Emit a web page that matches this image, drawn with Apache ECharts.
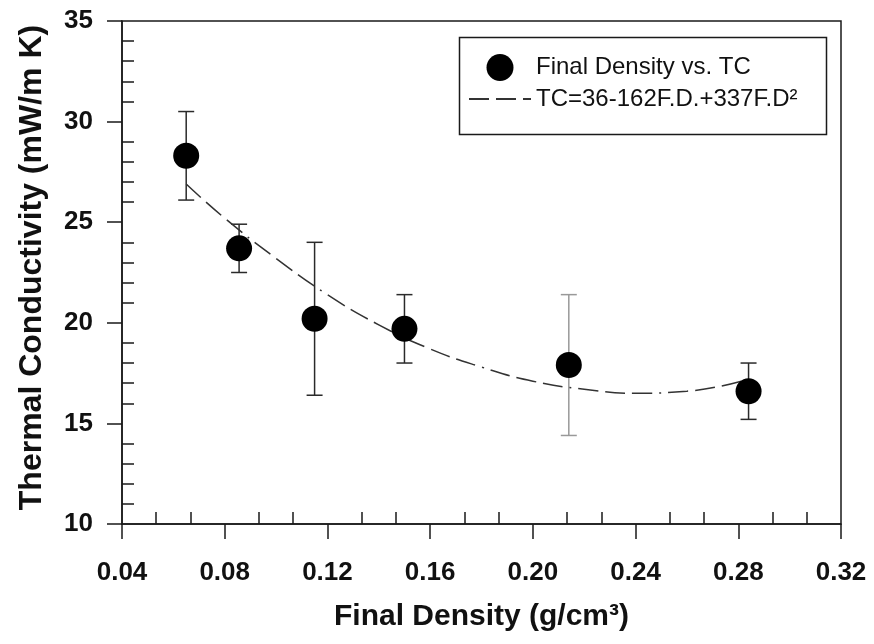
<!DOCTYPE html>
<html><head><meta charset="utf-8">
<script src="https://cdn.jsdelivr.net/npm/echarts@6/dist/echarts.min.js"></script>
<style>html,body{margin:0;padding:0;background:#fff}#c{width:874px;height:644px}</style>
</head><body><div id="c"></div>
<script>
// ---- data ----
const xTickLabels = ['0.04','0.08','0.12','0.16','0.20','0.24','0.28','0.32'];
const yTickLabels = ['10','15','20','25','30','35'];
const density = [0.065, 0.0856, 0.115, 0.150, 0.214, 0.284];
const tc      = [28.3, 23.7, 20.2, 19.7, 17.9, 16.6];
const tcLow   = [26.1, 22.5, 16.4, 18.0, 14.4, 15.2];
const tcHigh  = [30.5, 24.9, 24.0, 21.4, 21.4, 18.0];
const fitX = [0.065, 0.08, 0.10, 0.12, 0.14, 0.16, 0.18, 0.20, 0.22, 0.24, 0.26, 0.284];
const fitY = [26.9, 25.2, 23.2, 21.4, 19.9, 18.7, 17.8, 17.1, 16.7, 16.5, 16.6, 17.2];
const seriesNames = ['Final Density vs. TC', 'TC=36-162F.D.+337F.D\u00B2'];
const xTitle = 'Final Density (g/cm\u00B3)';
const yTitle = 'Thermal Conductivity (mW/m K)';

const FONT = '"Liberation Sans", Arial, Helvetica, sans-serif';
const AX = '#1a1a1a';
const chart = echarts.init(document.getElementById('c'), null, {renderer: 'canvas'});

const xFmt = v => { const i = Math.round((v - 0.04) / 0.04); return xTickLabels[i] || ''; };
const yFmt = v => { const i = Math.round((v - 10) / 5); return yTickLabels[i] || ''; };

const baseX = {type: 'value', min: 0.04, max: 0.32, interval: 0.04, splitLine: {show: false}, position: 'bottom'};
const baseY = {type: 'value', min: 10, max: 35, interval: 5, splitLine: {show: false}, position: 'left'};

chart.setOption({
  animation: false,
  backgroundColor: '#fff',
  grid: {left: 122, right: 33, top: 21, bottom: 120, show: true, borderColor: AX, borderWidth: 1.5, containLabel: false},
  xAxis: [
    Object.assign({}, baseX, {
      axisLine: {show: true, lineStyle: {color: AX, width: 1.5}},
      axisTick: {show: true, inside: false, length: 15, lineStyle: {color: AX, width: 1.5}},
      axisLabel: {formatter: xFmt, color: '#111', fontSize: 26, fontWeight: 'bold', fontFamily: FONT, margin: 36},
      name: xTitle, nameLocation: 'middle', nameGap: 78,
      nameTextStyle: {color: '#111', fontSize: 30, fontWeight: 'bold', fontFamily: FONT}
    }),
    Object.assign({}, baseX, {
      axisLine: {show: false},
      axisTick: {show: false, inside: true},
      minorTick: {show: true, splitNumber: 3, length: 12, lineStyle: {color: AX, width: 1.5}},
      axisLabel: {show: false}
    })
  ],
  yAxis: [
    Object.assign({}, baseY, {
      axisLine: {show: true, lineStyle: {color: AX, width: 1.5}},
      axisTick: {show: true, inside: false, length: 15, lineStyle: {color: AX, width: 1.5}},
      axisLabel: {formatter: yFmt, color: '#111', fontSize: 26, fontWeight: 'bold', fontFamily: FONT, margin: 29},
      name: yTitle, nameLocation: 'middle', nameGap: 74, nameRotate: 90,
      nameTextStyle: {color: '#111', fontSize: 32, fontWeight: 'bold', fontFamily: FONT, padding: [0, 0, 0, 10]}
    }),
    Object.assign({}, baseY, {
      axisLine: {show: false},
      axisTick: {show: false, inside: true},
      minorTick: {show: true, splitNumber: 5, length: 12, lineStyle: {color: AX, width: 1.5}},
      axisLabel: {show: false}
    })
  ],
  legend: {
    orient: 'vertical', left: 468, top: 54, padding: 0,
    itemWidth: 62, itemHeight: 27, itemGap: 6,
    data: [
      {name: seriesNames[0]},
      {name: seriesNames[1], itemStyle: {opacity: 0}}
    ],
    textStyle: {color: '#111', fontSize: 24, fontFamily: FONT},
    selectedMode: false
  },
  graphic: [{
    type: 'rect', left: 457, top: 35, shape: {width: 367, height: 97},
    style: {fill: 'none', stroke: AX, lineWidth: 1.5}, z: 100
  }],
  series: [
    {
      type: 'custom', name: 'err', xAxisIndex: 0, yAxisIndex: 0, z: 1,
      data: density.map((x, i) => [x, tcLow[i], tcHigh[i]]),
      renderItem: (params, api) => {
        const lo = api.coord([api.value(0), api.value(1)]);
        const hi = api.coord([api.value(0), api.value(2)]);
        const w = 8;
        const col = params.dataIndex === 4 ? '#999' : '#2a2a2a';
        const st = {stroke: col, lineWidth: 1.5};
        return {type: 'group', children: [
          {type: 'line', shape: {x1: lo[0], y1: lo[1], x2: hi[0], y2: hi[1]}, style: st},
          {type: 'line', shape: {x1: lo[0] - w, y1: lo[1], x2: lo[0] + w, y2: lo[1]}, style: st},
          {type: 'line', shape: {x1: hi[0] - w, y1: hi[1], x2: hi[0] + w, y2: hi[1]}, style: st}
        ]};
      }
    },
    {
      type: 'line', name: seriesNames[1], xAxisIndex: 0, yAxisIndex: 0, z: 2,
      data: fitX.map((x, i) => [x, fitY[i]]),
      smooth: true, symbol: 'none',
      lineStyle: {color: '#333', width: 1.5, type: [20, 7, 20, 7, 20, 7, 2, 7]},
      itemStyle: {color: '#333'}
    },
    {
      type: 'scatter', name: seriesNames[0], xAxisIndex: 0, yAxisIndex: 0, z: 3,
      data: density.map((x, i) => [x, tc[i]]),
      symbol: 'circle', symbolSize: 26,
      itemStyle: {color: '#000', opacity: 1}
    }
  ]
});
</script></body></html>
